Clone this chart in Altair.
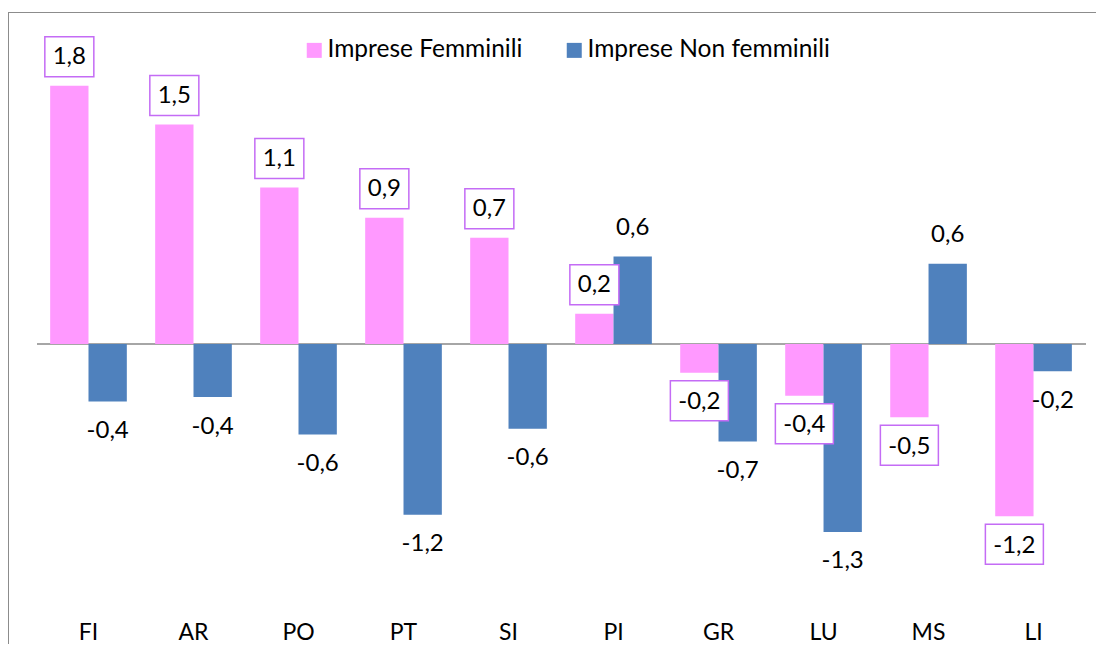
import altair as alt
import pandas as pd

# ---- data ----
province = ["FI", "AR", "PO", "PT", "SI", "PI", "GR", "LU", "MS", "LI"]
serie = ["Imprese Femminili", "Imprese Non femminili"]
femminili = [1.80, 1.53, 1.09, 0.88, 0.74, 0.21, -0.20, -0.36, -0.51, -1.20]
non_femminili = [-0.40, -0.37, -0.63, -1.19, -0.59, 0.61, -0.68, -1.31, 0.56, -0.19]
colori = ["#ff99ff", "#4f81bd"]

rows = []
for p, f, n in zip(province, femminili, non_femminili):
    rows.append({"prov": p, "serie": serie[0], "v": f})
    rows.append({"prov": p, "serie": serie[1], "v": n})
df = pd.DataFrame(rows)

W, H = 1088, 632
FONT = "Lato"
FS = 24

xs = alt.Scale(domain=province, paddingInner=0.27, paddingOuter=0.3157, align=0.636)
ys = alt.Scale(domain=[-2.0906, 2.3136], nice=False, zero=False)
xo = alt.XOffset("serie:N", sort=serie, scale=alt.Scale(domain=serie, paddingInner=0, paddingOuter=0))

X = alt.X("prov:N", scale=xs, sort=province,
          axis=alt.Axis(title=None, orient="bottom", offset=-5, labelPadding=0,
                        labelBaseline="alphabetic",
                        domain=False, ticks=False, labelAngle=0, labelFont=FONT,
                        labelFontSize=23, labelColor="#000000"))
Y = alt.Y("v:Q", scale=ys, axis=None)

one = alt.Data(values=[{"a": 1}])

frame_left = alt.Chart(one).mark_rule(color="#8c8c8c", strokeWidth=1).encode(
    x=alt.value(0.5), y=alt.value(0), y2=alt.value(H))
frame_top = alt.Chart(one).mark_rule(color="#8c8c8c", strokeWidth=1).encode(
    y=alt.value(0.5), x=alt.value(0), x2=alt.value(W))

base = alt.Chart(df)

bars = base.mark_bar(width={"band": 1}).encode(
    x=X, xOffset=xo, y=Y, y2=alt.datum(0),
    color=alt.Color("serie:N", sort=serie,
                    scale=alt.Scale(domain=serie, range=colori),
                    legend=alt.Legend(title=None, orient="none", direction="horizontal",
                                      legendX=294, legendY=26, symbolType="square",
                                      symbolSize=225, symbolStrokeWidth=0,
                                      labelFont=FONT, labelFontSize=24.5,
                                      labelColor="#000000", labelLimit=400,
                                      labelOffset=1, columnPadding=39, padding=0)))

zero = alt.Chart(one).mark_rule(color="#a6a6a6", strokeWidth=2).encode(
    y=alt.Y("z:Q", scale=ys, axis=None),
    x=alt.value(29), x2=alt.value(1078)).transform_calculate(z="0")

BOX = "#c46cf5"
box_pos = base.transform_filter(
    (alt.datum.serie == serie[0]) & (alt.datum.v > 0)).mark_bar(
    width=49, fill="#ffffff", stroke=BOX, strokeWidth=1.5,
    yOffset=-49, y2Offset=-9).encode(x=X, xOffset=xo, y=Y, y2="v:Q")
box_neg = base.transform_filter(
    (alt.datum.serie == serie[0]) & (alt.datum.v < 0)).mark_bar(
    width=58, fill="#ffffff", stroke=BOX, strokeWidth=1.5,
    yOffset=8, y2Offset=48).encode(x=X, xOffset=xo, y=Y, y2="v:Q")

lab = "replace(replace(format(datum.v, '.1f'), '.', ','), '\u2212', '-')"
txt_pos = base.transform_filter(alt.datum.v > 0).transform_calculate(t=lab).mark_text(
    font=FONT, fontSize=FS, color="#000000", baseline="middle", yOffset=-28.5
).encode(x=X, xOffset=xo, y=Y, text="t:N")
txt_neg = base.transform_filter(alt.datum.v < 0).transform_calculate(t=lab).mark_text(
    font=FONT, fontSize=FS, color="#000000", baseline="middle", yOffset=29.5
).encode(x=X, xOffset=xo, y=Y, text="t:N")

chart = alt.layer(frame_left, frame_top, zero, bars, box_pos, box_neg, txt_pos, txt_neg).properties(
    width=W, height=H,
    autosize=alt.AutoSizeParams(type="none"),
    padding={"left": 0, "top": 4, "right": 0, "bottom": 0},
    background="#ffffff",
).configure_view(stroke=None)

chart.save("out.html", embed_options={"renderer": "svg", "actions": False})
